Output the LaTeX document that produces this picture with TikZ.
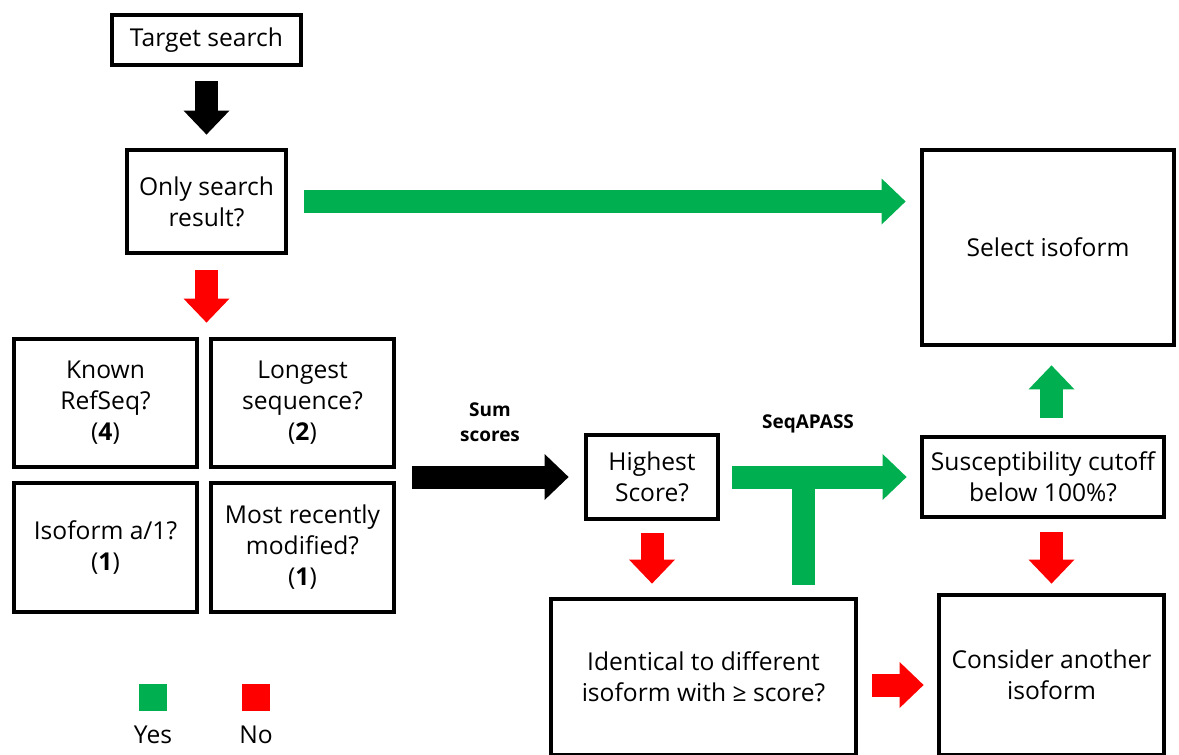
\documentclass[tikz,border=0pt]{standalone}
\usepackage{fontspec}
\setmainfont{Open Sans}
\usetikzlibrary{arrows.meta}
\definecolor{yesgreen}{RGB}{0,176,80}
\definecolor{nored}{RGB}{255,0,0}
\newcommand{\boxfont}{\fontsize{14}{17.6}\selectfont}
\newcommand{\notefont}{\fontsize{10.8}{14}\selectfont\bfseries}
\tikzset{
  box/.style={draw, line width=2.2pt, align=center, inner sep=0pt, font=\boxfont},
  blockarrow/.style={line width=0.46cm, -{Triangle[length=0.48cm,width=0.92cm,line width=0pt]}},
  yesarrow/.style={blockarrow, color=yesgreen},
  noarrow/.style={blockarrow, color=nored},
  goarrow/.style={blockarrow, color=black},
  yesbar/.style={line width=0.46cm, color=yesgreen},
  keybox/.style={inner sep=0pt, minimum width=0.56cm, minimum height=0.54cm}
}

\begin{document}
\begin{tikzpicture}[x=0.02cm,y=-0.02cm]
   \useasboundingbox (0,0) rectangle (1179,754);
   \node[box, minimum width=3.78cm, minimum height=1.0cm] (target) at (206.5,40) {Target search};
   \node[box, minimum width=3.18cm, minimum height=2.06cm] (only) at (206.5,201.5) {Only search\\result?};
   \node[box, minimum width=5.04cm, minimum height=3.9cm] (select) at (1048,247.5) {Select isoform};
   \node[box, minimum width=3.66cm, minimum height=2.56cm] (known) at (105.5,403) {Known\\RefSeq?\\(\textbf{4})};
   \node[box, minimum width=3.66cm, minimum height=2.56cm] (longest) at (302.5,403) {Longest\\sequence?\\(\textbf{2})};
   \node[box, minimum width=3.66cm, minimum height=2.58cm] (isoform) at (105.5,547.5) {Isoform a/1?\\(\textbf{1})};
   \node[box, minimum width=3.66cm, minimum height=2.58cm] (recent) at (302.5,547.5) {Most recently\\modified?\\(\textbf{1})};
   \node[box, minimum width=2.64cm, minimum height=1.68cm] (highest) at (652,477) {Highest\\Score?};
   \node[box, minimum width=4.84cm, minimum height=1.6cm] (suscept) at (1043,477) {Susceptibility cutoff\\below 100\%?};
   \node[box, minimum width=6.1cm, minimum height=3.12cm] (identical) at (703.5,677) {Identical to different\\isoform with ≥ score?};
   \node[box, minimum width=4.5cm, minimum height=3.2cm] (consider) at (1051.5,675) {Consider another\\isoform};
   \node[align=center, font=\notefont] (sumlabel) at (490,422) {Sum\\scores};
   \node[font=\notefont] (seqlabel) at (808,424) {SeqAPASS};
   \node[keybox, fill=yesgreen] (yeskey) at (153,697.5) {};
   \node[keybox, fill=nored] (nokey) at (256,697.5) {};
   \node[font=\boxfont] (yeslabel) at (153,735) {Yes};
   \node[font=\boxfont] (nolabel) at (256,735) {No};
   \draw[goarrow, shorten <=0.29cm, shorten >=0.27cm] (target.south) -- (only.north);
   \draw[yesarrow, shorten <=0.33cm, shorten >=0.29cm] (only.east) -- (only.east -| select.west);
   \draw[noarrow, shorten <=0.31cm, shorten >=0.29cm] (only.south) -- (only.south |- known.north);
   \draw[goarrow, shorten <=0.33cm, shorten >=0.31cm] (longest.south east |- highest.west) -- (highest.west);
   \draw[yesbar, shorten <=0.25cm] ([xshift=2cm]identical.north) -- ([xshift=2cm]identical.north |- highest.east);
   \draw[yesarrow, shorten <=0.25cm, shorten >=0.27cm] (highest.east) -- (highest.east -| suscept.west);
   \draw[yesarrow, shorten <=0.35cm, shorten >=0.37cm] (suscept.north -| consider.north) -- (select.south -| consider.north);
   \draw[noarrow, shorten <=0.25cm, shorten >=0.27cm] (highest.south) -- (highest.south |- identical.north);
   \draw[noarrow, shorten <=0.27cm, shorten >=0.19cm] (suscept.south -| consider.north) -- (consider.north);
   \draw[noarrow, shorten <=0.29cm, shorten >=0.27cm] ([yshift=-0.16cm]identical.east) -- ([yshift=-0.16cm]identical.east -| consider.west);
\end{tikzpicture}
\end{document}
